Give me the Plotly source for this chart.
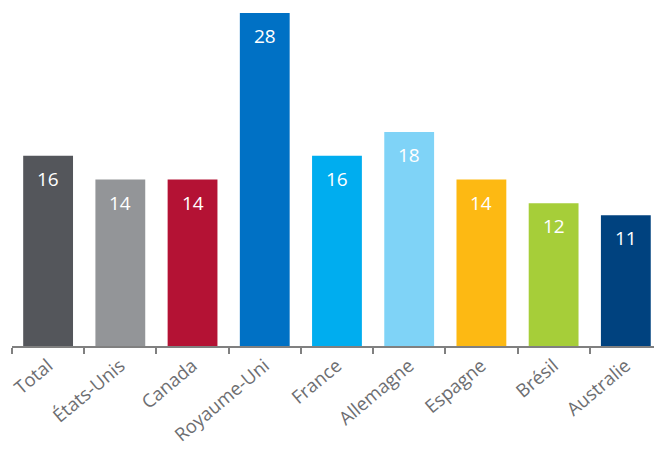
import plotly.graph_objects as go

categories = ["Total", "États-Unis", "Canada", "Royaume-Uni", "France",
              "Allemagne", "Espagne", "Brésil", "Australie"]
values = [16, 14, 14, 28, 16, 18, 14, 12, 11]
colors = ["#54565b", "#939598", "#b41234", "#0071c5", "#00adef",
          "#7fd3f7", "#fdb913", "#a6ce39", "#00427f"]

fig = go.Figure(
    go.Bar(
        x=categories,
        y=values,
        marker=dict(color=colors, line=dict(width=0)),
        hoverinfo="skip",
    )
)

# value labels sitting just inside the top of each bar
for cat, val in zip(categories, values):
    fig.add_annotation(
        x=cat, y=val, text=str(val), showarrow=False,
        yanchor="top", yshift=-8,
        font=dict(family="Open Sans", size=19, color="white"),
    )

fig.update_layout(
    width=654, height=449,
    margin=dict(l=12, r=0, t=13, b=103),
    paper_bgcolor="white", plot_bgcolor="white",
    bargap=0.31,
    showlegend=False,
    font=dict(family="Open Sans"),
)
fig.update_xaxes(
    range=[-0.5, 8.39],
    showline=True, linecolor="#808080", linewidth=1.5,
    ticks="outside", tickson="boundaries", ticklen=6,
    tickcolor="#808080", tickwidth=1.5,
    tickangle=-40,
    tickfont=dict(family="Open Sans", size=18.5, color="#6d6e71"),
    showgrid=False, zeroline=False,
)
fig.update_yaxes(
    range=[0, 28], visible=False, showgrid=False, zeroline=False,
)

fig.write_html("out.html")
